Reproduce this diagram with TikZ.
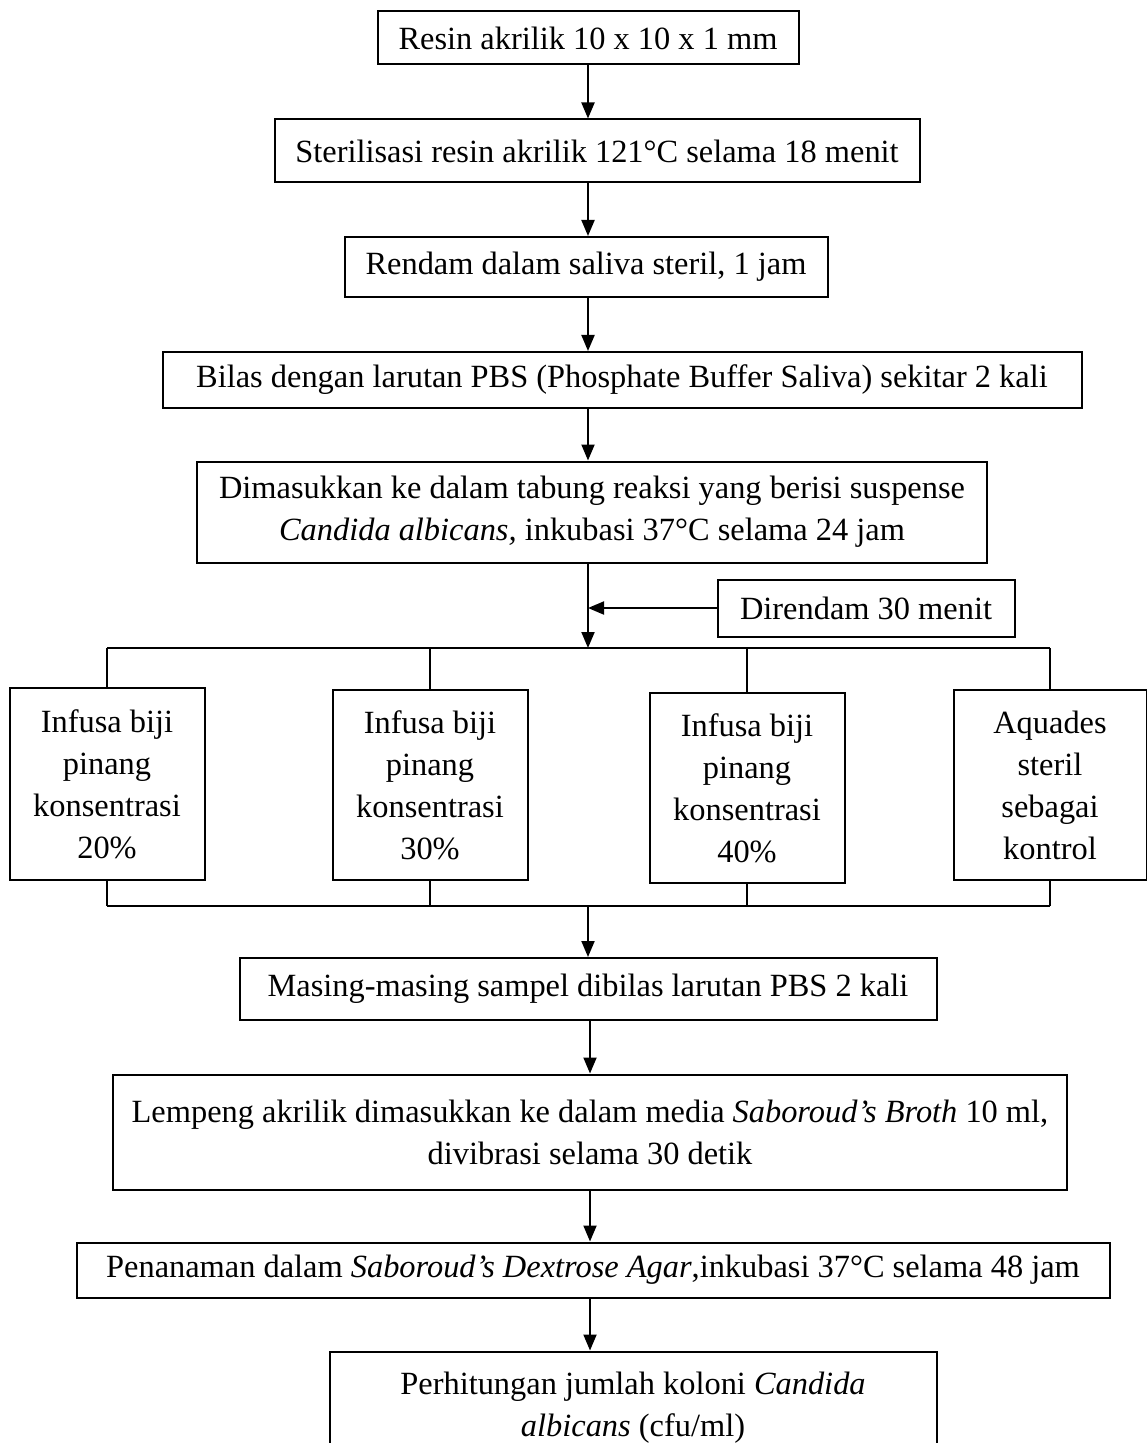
\documentclass[tikz,border=0pt]{standalone}
\usepackage{fontspec}
\setmainfont{Liberation Serif}
\usetikzlibrary{arrows.meta}

\tikzset{
    box/.style={draw, line width=1pt, align=center, inner sep=0pt,
        font=\fontsize{16.2pt}{21pt}\selectfont},
    arr/.style={-{Triangle[length=8pt,width=6.5pt]}, line width=1pt},
    link/.style={line width=1pt}
}

\begin{document}
\begin{tikzpicture}[x=0.5pt,y=-0.5pt]
    \useasboundingbox (0,0) rectangle (1146,1443);

    % Main steps
    \node[box, minimum width=210.5pt, minimum height=26.5pt] (resin) at (588,38) {Resin akrilik 10 x 10 x 1 mm};
    \node[box, minimum width=322.5pt, minimum height=31.5pt] (steril) at (597,151) {Sterilisasi resin akrilik 121°C selama 18 menit};
    \node[box, minimum width=241.5pt, minimum height=30pt] (rendam) at (586,267) {Rendam dalam saliva steril, 1 jam};
    \node[box, minimum width=459.5pt, minimum height=28pt] (bilas) at (622,380) {Bilas dengan larutan PBS (Phosphate Buffer Saliva) sekitar 2 kali};
    \node[box, minimum width=395pt, minimum height=50.5pt] (masuk) at (592,512) {Dimasukkan ke dalam tabung reaksi yang berisi suspense\\\textit{Candida albicans,} inkubasi 37°C selama 24 jam};
    \node[box, minimum width=148.5pt, minimum height=28.5pt] (direndam) at (866,608) {Direndam 30 menit};

    % Treatment groups
    \node[box, minimum width=97.5pt, minimum height=96pt] (inf20) at (107,784) {Infusa biji\\pinang\\konsentrasi\\20\%};
    \node[box, minimum width=97.5pt, minimum height=95pt] (inf30) at (430,785) {Infusa biji\\pinang\\konsentrasi\\30\%};
    \node[box, minimum width=97.5pt, minimum height=95pt] (inf40) at (747,788) {Infusa biji\\pinang\\konsentrasi\\40\%};
    \node[box, minimum width=96.5pt, minimum height=95pt] (aquades) at (1050,785) {Aquades\\steril\\sebagai\\kontrol};

    % Final steps
    \node[box, minimum width=348.5pt, minimum height=31pt] (masing) at (588,989) {Masing-masing sampel dibilas larutan PBS 2 kali};
    \node[box, minimum width=477pt, minimum height=57.5pt] (lempeng) at (590,1132) {Lempeng akrilik dimasukkan ke dalam media \textit{Saboroud’s Broth} 10 ml,\\divibrasi selama 30 detik};
    \node[box, minimum width=516.5pt, minimum height=27.5pt] (tanam) at (593,1270) {Penanaman dalam \textit{Saboroud’s Dextrose Agar},inkubasi 37°C selama 48 jam};
    \node[box, minimum width=303.5pt, minimum height=56.5pt] (hitung) at (633,1408) {Perhitungan jumlah koloni \textit{Candida}\\\textit{albicans} (cfu/ml)};

    % Junction points
    \coordinate (topbar) at (588,648);
    \coordinate (botbar) at (588,906);

    % Arrows down the main line
    \draw[arr] (resin.south) -- (resin.south |- steril.north);
    \draw[arr] (resin.south |- steril.south) -- (resin.south |- rendam.north);
    \draw[arr] (resin.south |- rendam.south) -- (resin.south |- bilas.north);
    \draw[arr] (resin.south |- bilas.south) -- (resin.south |- masuk.north);
    \draw[arr] (resin.south |- masuk.south) -- (topbar);
    \draw[arr] (direndam.west) -- (direndam.west -| topbar);

    % Branches
    \draw[link] (inf20.north |- topbar) -- (aquades.north |- topbar);
    \foreach \g in {inf20,inf30,inf40,aquades} {
        \draw[link] (\g.north |- topbar) -- (\g.north);
        \draw[link] (\g.south) -- (\g.south |- botbar);
    }
    \draw[link] (inf20.south |- botbar) -- (aquades.south |- botbar);

    \draw[arr] (botbar) -- (botbar |- masing.north);
    \draw[arr] (masing.south -| lempeng.south) -- (lempeng.north);
    \draw[arr] (lempeng.south) -- (lempeng.south |- tanam.north);
    \draw[arr] (lempeng.south |- tanam.south) -- (lempeng.south |- hitung.north);
\end{tikzpicture}
\end{document}
